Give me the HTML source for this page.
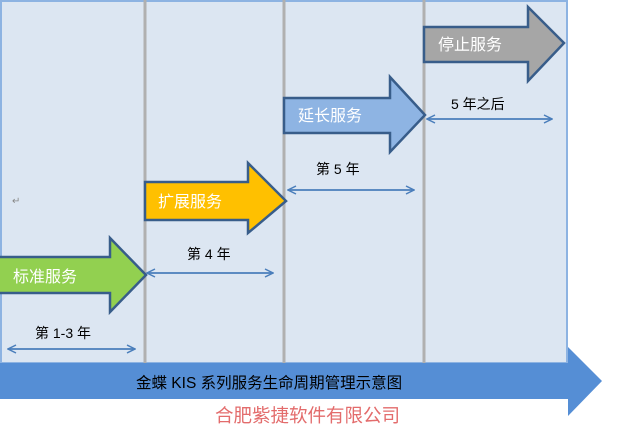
<!DOCTYPE html>
<html><head><meta charset="utf-8"><style>
body{margin:0;width:617px;height:427px;overflow:hidden;background:#fff;font-family:"Liberation Sans","Noto Sans CJK SC",sans-serif}
svg{position:absolute;left:0;top:0}
</style></head><body>
<svg width="617" height="427" viewBox="0 0 617 427">
<defs>
<marker id="ah" viewBox="0 0 10 10" refX="9" refY="5" markerWidth="10" markerHeight="10" markerUnits="userSpaceOnUse" orient="auto-start-reverse">
<path d="M1,1 L9,5 L1,9" fill="none" stroke="#4a7ebb" stroke-width="1.5"/>
</marker>
</defs>
<rect x="1" y="1" width="566" height="362" fill="#dce6f2" stroke="#8db3e2" stroke-width="2"/>
<g stroke="#b0b0b0" stroke-width="3">
<line x1="145" y1="0" x2="145" y2="363"/>
<line x1="284" y1="0" x2="284" y2="363"/>
<line x1="424" y1="0" x2="424" y2="363"/>
</g>
<g stroke="#385d8a" stroke-width="2.5" stroke-linejoin="miter">
<path d="M424,27 L528,27 L528,7 L564,43 L528,81 L528,62 L424,62 Z" fill="#a6a6a6"/>
<path d="M284,98 L390,98 L390,77 L425,115 L390,152 L390,133 L284,133 Z" fill="#8eb4e3"/>
<path d="M145,182 L248,182 L248,163 L286,201 L248,233 L248,220 L145,220 Z" fill="#ffc000"/>
<path d="M-2,257 L110,257 L110,238 L146,275 L110,312 L110,293 L-2,293 Z" fill="#92d050"/>
</g>
<g fill="#fff" font-size="16">
<text x="438" y="50">停止服务</text>
<text x="298" y="121">延长服务</text>
<text x="158" y="207">扩展服务</text>
<text x="13" y="282">标准服务</text>
</g>
<g stroke="#4a7ebb" stroke-width="1.8" marker-start="url(#ah)" marker-end="url(#ah)">
<line x1="427" y1="119" x2="552" y2="119"/>
<line x1="288" y1="190" x2="414" y2="190"/>
<line x1="147" y1="273" x2="273" y2="273"/>
<line x1="8" y1="349" x2="135" y2="349"/>
</g>
<g font-size="14" fill="#000">
<text x="451" y="109">5 年之后</text>
<text x="316" y="174">第 5 年</text>
<text x="187" y="259">第 4 年</text>
<text x="35" y="338">第 1-3 年</text>
</g>
<path d="M0,363 L568,363 L568,347 L602,381 L568,416 L568,399 L0,399 Z" fill="#558ed5"/>
<text x="136" y="388" font-size="15.5" fill="#000">金蝶 KIS 系列服务生命周期管理示意图</text>
<text x="215" y="422" font-size="18.5" fill="#e36c6c">合肥紫捷软件有限公司</text>
<text x="12" y="204" font-size="10" fill="#888">↵</text>
</svg>
</body></html>
